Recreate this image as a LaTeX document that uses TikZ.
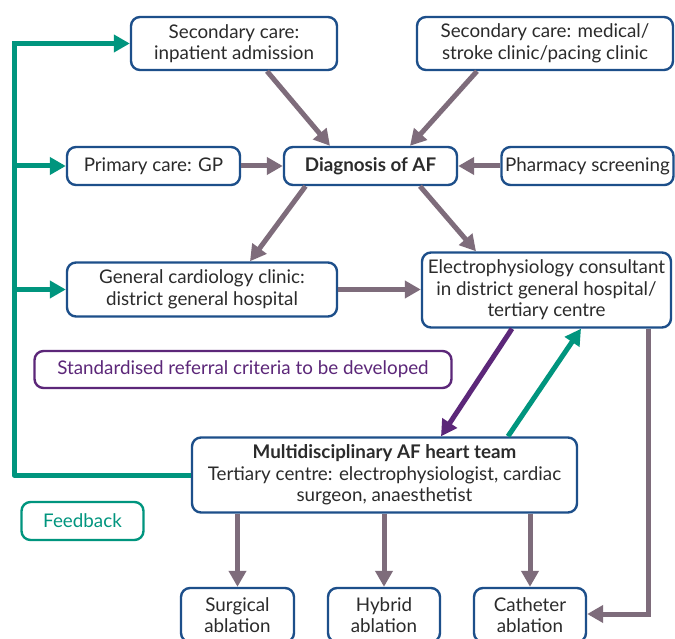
\documentclass[tikz,border=0pt]{standalone}
\usepackage{fontspec}
\setmainfont{Lato}
\usetikzlibrary{arrows.meta}
\definecolor{boxblue}{HTML}{1D4F8A}
\definecolor{arrgray}{HTML}{7E6C7B}
\definecolor{tealc}{HTML}{00957E}
\definecolor{purp}{HTML}{5C2779}
\definecolor{txt}{HTML}{2B2B2B}
\begin{document}
\begin{tikzpicture}[x=1pt,y=-1pt,
  box/.style={draw=boxblue, line width=2.4pt, rounded corners=9pt, fill=white,
    align=center, text=txt, inner sep=0pt, font=\fontsize{18.8}{21.5}\selectfont},
  garrow/.style={draw=arrgray, line width=5pt, -{Triangle[length=16pt,width=17pt]}},
  parrow/.style={draw=purp, line width=5pt, -{Triangle[length=16pt,width=17pt]}},
  tarrow/.style={draw=tealc, line width=5pt, -{Triangle[length=16pt,width=17pt]}},
  tline/.style={draw=tealc, line width=5pt, line join=round}]
\useasboundingbox (0,0) rectangle (675,639);
\fill[white] (0,0) rectangle (675,639);

\node[box, minimum width=206pt, minimum height=53pt] (sec1) at (234,43.5) {Secondary care:\\inpatient admission};
\node[box, minimum width=256pt, minimum height=53pt] (sec2) at (545,43.5) {Secondary care: medical/\\stroke clinic/pacing clinic};
\node[box, minimum width=173pt, minimum height=38pt] (prim) at (153.5,166) {Primary care: GP};
\node[box, minimum width=173pt, minimum height=38pt] (diag) at (370.5,166) {\bfseries Diagnosis of AF};
\node[box, minimum width=172pt, minimum height=38pt] (pharm) at (587.5,166) {Pharmacy screening};
\node[box, minimum width=270pt, minimum height=54pt] (gen) at (202,289.5) {General cardiology clinic:\\district general hospital};
\node[box, minimum width=249pt, minimum height=75pt] (elec) at (546.5,290) {Electrophysiology consultant\\in district general hospital/\\tertiary centre};
\node[box, draw=purp, text=purp, minimum width=417pt, minimum height=37pt] (std) at (243,369.5) {Standardised referral criteria to be developed};
\node[box, minimum width=385pt, minimum height=75pt] (multi) at (384.5,475) {\textbf{Multidisciplinary AF heart team}\\Tertiary centre: electrophysiologist, cardiac\\surgeon, anaesthetist};
\node[box, draw=tealc, text=tealc, minimum width=122pt, minimum height=38pt] (fb) at (82.5,521) {Feedback};
\node[box, minimum width=113pt, minimum height=54pt] (surg) at (237.5,615) {Surgical\\ablation};
\node[box, minimum width=112pt, minimum height=54pt] (hyb) at (384,615) {Hybrid\\ablation};
\node[box, minimum width=112pt, minimum height=54pt] (cath) at (530,615) {Catheter\\ablation};

% grey arrows
\draw[garrow] ([xshift=33pt]sec1.south) -- ([xshift=-40.5pt]diag.north);
\draw[garrow] ([xshift=-68pt]sec2.south) -- ([xshift=39.5pt]diag.north);
\draw[garrow] (prim.east) -- (diag.west);
\draw[garrow] (pharm.west) -- (diag.east);
\draw[garrow] ([xshift=-65pt]diag.south) -- ([xshift=48pt]gen.north);
\draw[garrow] ([xshift=49.5pt]diag.south) -- ([xshift=-70.5pt]elec.north);
\draw[garrow] (gen.east) -- (elec.west |- gen.east);
\draw[garrow] ([xshift=101.5pt]elec.south) |- ([yshift=1pt]cath.east);
\draw[garrow] (surg.north |- multi.south) -- (surg.north);
\draw[garrow] (hyb.north |- multi.south) -- (hyb.north);
\draw[garrow] (cath.north |- multi.south) -- (cath.north);

% purple and teal between elec and multi
\draw[parrow] ([xshift=-34.5pt]elec.south) -- ([xshift=56.5pt]multi.north);
\draw[tarrow] ([xshift=123.5pt]multi.north) -- ([xshift=34.5pt]elec.south);

% feedback loop
\coordinate (fbtop) at (14,43.5);
\coordinate (fbbot) at (14,475);
\draw[tline] (multi.west) -- (fbbot) -- (fbtop) -- ([xshift=-14pt]sec1.west);
\draw[tarrow] ([xshift=-2pt]fbtop) -- (sec1.west);
\draw[tarrow] (fbbot |- prim.west) -- (prim.west);
\draw[tarrow] (fbbot |- gen.west) -- (gen.west);
\end{tikzpicture}
\end{document}
